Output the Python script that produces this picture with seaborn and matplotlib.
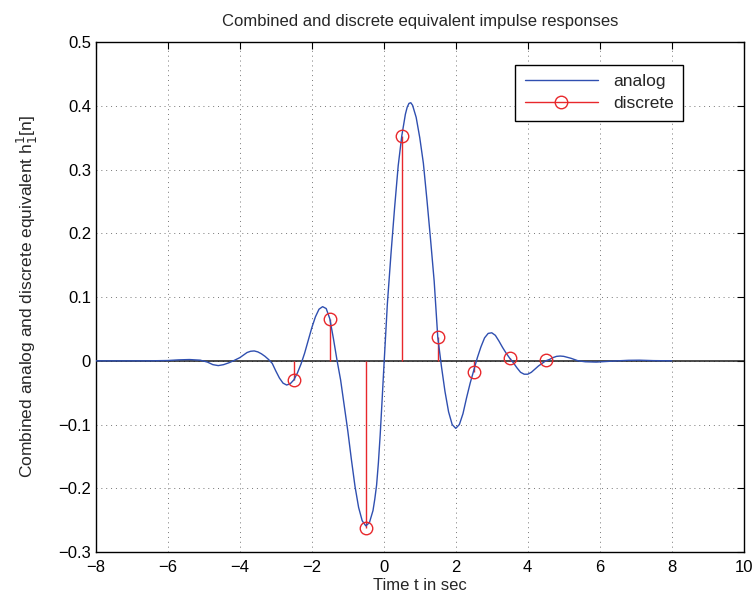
import numpy as np
import pandas as pd
import matplotlib
matplotlib.use('Agg')
import matplotlib.pyplot as plt
from matplotlib.lines import Line2D
from matplotlib.ticker import FuncFormatter
import seaborn as sns

# analog impulse response
t_analog = [-8.0, -7.0, -6.5, -6.0, -5.7, -5.4, -5.1, -4.9, -4.75, -4.6, -4.45, -4.3,
            -4.18, -4.0, -3.9, -3.8, -3.7, -3.6, -3.5, -3.4, -3.3, -3.2, -3.1, -3.0,
            -2.9, -2.8, -2.7, -2.6, -2.5, -2.4, -2.3, -2.2, -2.1, -2.0, -1.9, -1.8,
            -1.7, -1.6, -1.5, -1.4, -1.3, -1.2, -1.1, -1.0, -0.9, -0.8, -0.7, -0.6,
            -0.5, -0.4, -0.3, -0.25, -0.2, -0.15, -0.1, -0.05, 0.0, 0.1, 0.2, 0.3,
            0.4, 0.5, 0.6, 0.65, 0.7, 0.75, 0.8, 0.9, 1.0, 1.1, 1.2, 1.3,
            1.4, 1.5, 1.6, 1.7, 1.8, 1.9, 2.0, 2.1, 2.2, 2.3, 2.4, 2.5,
            2.6, 2.7, 2.8, 2.9, 3.0, 3.1, 3.2, 3.3, 3.4, 3.5, 3.6, 3.7,
            3.8, 3.9, 4.0, 4.1, 4.2, 4.3, 4.4, 4.5, 4.6, 4.7, 4.8, 4.9,
            5.0, 5.2, 5.4, 5.6, 5.9, 6.2, 6.5, 6.8, 7.1, 7.5, 8.0]
h_analog = [0.0, 0.0, 0.0, 0.0005, 0.0015, 0.002, 0.001, -0.002, -0.006, -0.0075, -0.006, -0.003,
            0.0, 0.005, 0.009, 0.013, 0.015, 0.0155, 0.014, 0.011, 0.007, 0.002, -0.004, -0.016,
            -0.027, -0.035, -0.038, -0.036, -0.030, -0.019, -0.005, 0.012, 0.032, 0.052, 0.069, 0.081,
            0.085, 0.082, 0.066, 0.035, 0.001, -0.030, -0.070, -0.110, -0.155, -0.197, -0.230, -0.251,
            -0.259, -0.254, -0.235, -0.217, -0.195, -0.160, -0.116, -0.065, -0.012, 0.090, 0.168, 0.240,
            0.306, 0.353, 0.387, 0.398, 0.404, 0.405, 0.401, 0.382, 0.350, 0.310, 0.252, 0.190,
            0.125, 0.037, -0.008, -0.048, -0.080, -0.100, -0.106, -0.100, -0.083, -0.058, -0.035, -0.015,
            0.005, 0.022, 0.036, 0.043, 0.044, 0.040, 0.031, 0.021, 0.012, 0.004, -0.003, -0.011,
            -0.018, -0.021, -0.021, -0.018, -0.013, -0.008, -0.004, 0.0, 0.002, 0.005, 0.007, 0.0075,
            0.007, 0.004, 0.0, -0.0015, -0.002, -0.001, 0.0, 0.0008, 0.001, 0.0003, 0.0]

# discrete samples
t_discrete = [-2.5, -1.5, -0.5, 0.5, 1.5, 2.5, 3.5, 4.5]
h_discrete = [-0.030, 0.066, -0.262, 0.353, 0.037, -0.017, 0.004, 0.001]

blue = '#2f4fb0'
red = '#e8282c'

sns.set_theme(style='white', rc={'xtick.direction': 'in', 'ytick.direction': 'in',
                                 'xtick.top': True, 'ytick.right': True,
                                 'xtick.major.size': 5, 'ytick.major.size': 5,
                                 'axes.edgecolor': 'black', 'axes.linewidth': 1.0})
plt.rcParams['font.family'] = ['Liberation Sans', 'DejaVu Sans']

fig = plt.figure(figsize=(7.55, 6.03), dpi=100)
ax = fig.add_axes([0.127, 0.0846, 0.858, 0.8454])

ax.grid(True, color='k', linestyle=(0, (1, 4)), linewidth=0.7, alpha=0.6)
ax.axhline(0, color='k', linewidth=1.1, zorder=2)

df = pd.DataFrame({'t': t_analog, 'h': h_analog})
sns.lineplot(data=df, x='t', y='h', sort=False, estimator=None, color=blue,
             linewidth=1.0, ax=ax, zorder=3)

ax.vlines(t_discrete, 0, h_discrete, color=red, linewidth=1.0, zorder=2.5)
ax.plot(t_discrete, h_discrete, 'o', markersize=9, markerfacecolor='none',
        markeredgecolor=red, markeredgewidth=1.0, zorder=4)

ax.set_xlim(-8, 10)
ax.set_ylim(-0.3, 0.5)
ax.set_xticks(np.arange(-8, 11, 2))
ax.set_yticks(np.round(np.arange(-0.3, 0.51, 0.1), 1))
fmt = FuncFormatter(lambda v, p: ('%g' % round(v, 2)).replace('-', '\u2212'))
ax.xaxis.set_major_formatter(fmt)
ax.yaxis.set_major_formatter(fmt)
ax.tick_params(labelsize=12, colors='black', width=0.8)
ax.tick_params(axis='x', pad=6)

ax.set_title('Combined and discrete equivalent impulse responses', fontsize=12, pad=12)
ax.set_xlabel('Time t in sec', fontsize=12, labelpad=2)
ax.set_ylabel(r'Combined analog and discrete equivalent h$_1^1$[n]', fontsize=12.5, labelpad=13)

handles = [Line2D([], [], color=blue, linewidth=1.0),
           Line2D([], [], color=red, linewidth=1.0, marker='o', markersize=9,
                  markerfacecolor='none', markeredgecolor=red)]
leg = ax.legend(handles, ['analog', 'discrete'], loc='upper right',
                bbox_to_anchor=(0.907, 0.956), borderaxespad=0, fontsize=12.5,
                fancybox=False, framealpha=1, edgecolor='black', numpoints=1,
                handlelength=4.2, handletextpad=0.9, borderpad=0.55, labelspacing=0.4)
leg.get_frame().set_linewidth(1.0)

fig.savefig('out.png', dpi=100)
